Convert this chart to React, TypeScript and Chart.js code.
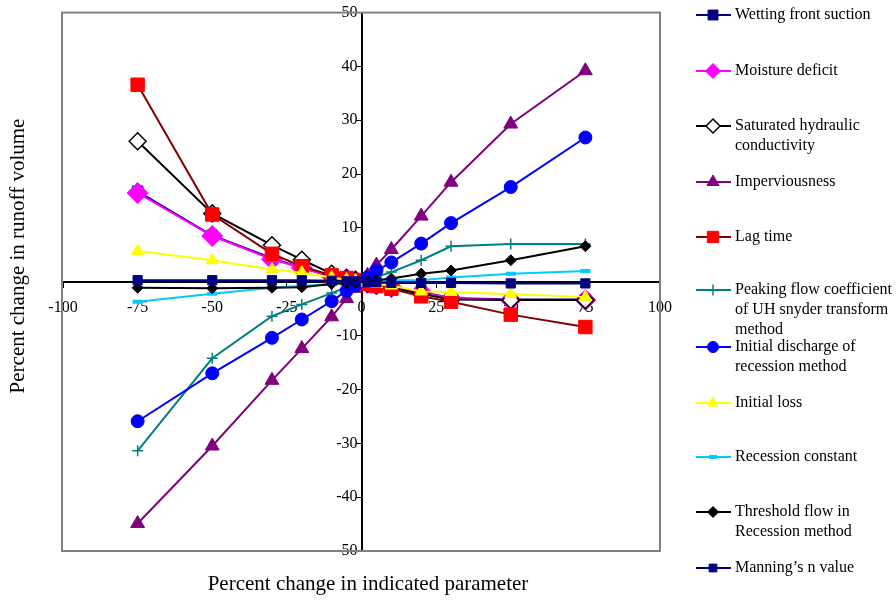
import React, { useEffect, useRef } from 'react';
import { Chart, registerables } from 'chart.js';
import { drawPoint } from 'chart.js/helpers';

Chart.register(...registerables);

// Percent change in indicated parameter
const xValues = [-75, -50, -30, -20, -10, -5, -2, 2, 5, 10, 20, 30, 50, 75];

// Percent change in runoff volume, per parameter
const wettingFrontSuction = [16.8, 8.6, 4.4, 2.6, 1.0, 0.5, 0.2, -0.2, -0.5, -1.0, -1.9, -3.0, -3.3, -3.3];
const moistureDeficit = [16.5, 8.5, 4.2, 2.6, 1.0, 0.5, 0.2, -0.2, -0.5, -1.0, -1.9, -3.1, -3.4, -3.4];
const saturatedHydraulic = [26.1, 12.7, 6.8, 4.1, 1.5, 0.7, 0.3, -0.3, -0.6, -1.1, -2.2, -3.3, -3.4, -3.4];
const imperviousness = [-44.9, -30.5, -18.3, -12.4, -6.5, -3.1, -1.2, 1.2, 3.1, 6.0, 12.2, 18.5, 29.3, 39.2];
const lagTime = [36.6, 12.5, 5.2, 2.9, 1.2, 0.7, 0.3, -0.4, -0.8, -1.3, -2.7, -3.7, -6.1, -8.4];
const peakingFlow = [-31.4, -14.2, -6.4, -4.2, -2.1, -1.0, -0.4, 0.4, 0.9, 1.8, 4.0, 6.6, 7.0, 7.0];
const initialDischarge = [-25.9, -17.0, -10.4, -7.0, -3.6, -1.7, -0.7, 0.8, 2.1, 3.6, 7.1, 10.9, 17.6, 26.8];
const initialLoss = [5.7, 4.0, 2.3, 1.7, 0.8, 0.4, 0.2, -0.2, -0.4, -0.7, -1.8, -1.9, -2.3, -2.8];
const recessionConstant = [-3.7, -2.2, -1.1, -0.8, -0.4, -0.2, -0.1, 0.1, 0.2, 0.3, 0.3, 0.8, 1.5, 2.0];
const thresholdFlow = [-1.1, -1.2, -1.1, -1.0, -0.4, -0.2, -0.1, 0.1, 0.3, 0.6, 1.5, 2.1, 4.0, 6.6];
const manningsN = [0.3, 0.3, 0.3, 0.3, 0.2, 0.1, 0.1, -0.1, -0.1, -0.2, -0.2, -0.2, -0.3, -0.3];

const legendLabels: string[][] = [
  ['Wetting front suction'],
  ['Moisture deficit'],
  ['Saturated hydraulic', 'conductivity'],
  ['Imperviousness'],
  ['Lag time'],
  ['Peaking flow coefficient', 'of UH snyder transform', 'method'],
  ['Initial discharge of', 'recession method'],
  ['Initial loss'],
  ['Recession constant'],
  ['Threshold flow in', 'Recession method'],
  ['Manning\u2019s n value'],
];

const xTitle = 'Percent change in indicated parameter';
const yTitle = 'Percent change in runoff volume';

const FONT = "'Liberation Serif', 'Times New Roman', serif";

type Style = {
  line: string;
  fill: string;
  border: string;
  pointStyle: any;
  radius: number;
  pbw: number;
  legendRadius: number;
};

const seriesValues = [
  wettingFrontSuction, moistureDeficit, saturatedHydraulic, imperviousness, lagTime,
  peakingFlow, initialDischarge, initialLoss, recessionConstant, thresholdFlow, manningsN,
];

const styles: Style[] = [
  { line: '#000080', fill: '#000080', border: '#000080', pointStyle: 'rect', radius: 7.5, pbw: 1, legendRadius: 7 },
  { line: '#FF00FF', fill: '#FF00FF', border: '#FF00FF', pointStyle: 'rectRot', radius: 10.5, pbw: 1, legendRadius: 7.5 },
  { line: '#000000', fill: '#FFFFFF', border: '#000000', pointStyle: 'rectRot', radius: 8.5, pbw: 1.5, legendRadius: 7 },
  { line: '#800080', fill: '#800080', border: '#800080', pointStyle: 'triangle', radius: 8, pbw: 1, legendRadius: 7 },
  { line: '#800000', fill: '#FF0000', border: '#FF0000', pointStyle: 'rect', radius: 9.5, pbw: 1, legendRadius: 8 },
  { line: '#008080', fill: '#008080', border: '#008080', pointStyle: 'cross', radius: 5.5, pbw: 1.5, legendRadius: 5.5 },
  { line: '#0000FF', fill: '#0000FF', border: '#0000FF', pointStyle: 'circle', radius: 6.5, pbw: 1, legendRadius: 5.5 },
  { line: '#FFFF00', fill: '#FFFF00', border: '#FFFF00', pointStyle: 'triangle', radius: 7, pbw: 1, legendRadius: 6 },
  { line: '#00CCFF', fill: '#00CCFF', border: '#00CCFF', pointStyle: 'line', radius: 5, pbw: 4, legendRadius: 4 },
  { line: '#000000', fill: '#000000', border: '#000000', pointStyle: 'rectRot', radius: 5.5, pbw: 1, legendRadius: 5.5 },
  { line: '#000080', fill: '#000080', border: '#000080', pointStyle: 'rect', radius: 6.5, pbw: 1, legendRadius: 5.5 },
];

const legendRowY = [15, 71, 126, 182, 237, 290, 347, 403, 457, 512, 568];

const framePlugin = {
  id: 'frame',
  beforeDatasetsDraw(chart: any) {
    const { ctx, chartArea: a } = chart;
    ctx.save();
    ctx.strokeStyle = '#808080';
    ctx.lineWidth = 2;
    ctx.strokeRect(a.left - 1, a.top, a.right - a.left + 1, a.bottom - a.top);
    ctx.restore();
  },
  afterDraw(chart: any) {
    const { ctx } = chart;
    ctx.save();
    // axis titles
    ctx.fillStyle = '#000';
    ctx.font = `21px ${FONT}`;
    ctx.textAlign = 'center';
    ctx.textBaseline = 'middle';
    ctx.fillText(xTitle, 368, 584);
    ctx.translate(18, 256);
    ctx.rotate(-Math.PI / 2);
    ctx.fillText(yTitle, 0, 0);
    ctx.restore();

    // legend
    ctx.save();
    ctx.font = `16px ${FONT}`;
    ctx.textAlign = 'left';
    ctx.textBaseline = 'middle';
    styles.forEach((s, i) => {
      const y = legendRowY[i];
      ctx.strokeStyle = s.line;
      ctx.lineWidth = 2;
      ctx.beginPath();
      ctx.moveTo(696, y);
      ctx.lineTo(731, y);
      ctx.stroke();
      ctx.fillStyle = s.fill;
      ctx.strokeStyle = s.border;
      ctx.lineWidth = s.pbw;
      drawPoint(ctx, { pointStyle: s.pointStyle, radius: s.legendRadius, borderWidth: s.pbw, rotation: 0 } as any, 713, y);
      ctx.fillStyle = '#000';
      legendLabels[i].forEach((t, k) => {
        ctx.fillText(t, 735, y + k * 20);
      });
    });
    ctx.restore();
  },
};

export default function App() {
  const ref = useRef<HTMLCanvasElement | null>(null);
  useEffect(() => {
    document.body.style.margin = '0';
    const canvas = ref.current;
    if (!canvas) return;
    const n = seriesValues.length;
    const datasets = seriesValues.map((vals, i) => {
      const s = styles[i];
      return {
        label: legendLabels[i].join(' '),
        data: xValues.map((x, k) => ({ x, y: vals[k] })),
        borderColor: s.line,
        backgroundColor: s.fill,
        borderWidth: 2,
        pointStyle: s.pointStyle,
        pointRadius: s.radius,
        pointBackgroundColor: s.fill,
        pointBorderColor: s.border,
        pointBorderWidth: s.pbw,
        showLine: true,
        fill: false,
        tension: 0,
        order: n - i,
      };
    });
    const tickFont = { family: FONT, size: 16 };
    const chart = new Chart(canvas, {
      type: 'scatter',
      data: { datasets: datasets as any },
      options: {
        animation: false,
        responsive: false,
        maintainAspectRatio: false,
        layout: { padding: { left: 63, right: 236, top: 12, bottom: 49 } },
        plugins: { legend: { display: false }, tooltip: { enabled: false } },
        scales: {
          x: {
            type: 'linear',
            min: -100,
            max: 100,
            position: { y: 0 } as any,
            ticks: { stepSize: 25, font: tickFont, color: '#000', padding: 11, maxRotation: 0, autoSkip: false },
            grid: { display: true, drawOnChartArea: false, drawTicks: true, tickLength: 5, color: '#000', lineWidth: 1 },
            border: { display: true, color: '#000', width: 2 },
          },
          y: {
            type: 'linear',
            min: -50,
            max: 50,
            position: { x: 0 } as any,
            ticks: { stepSize: 10, font: tickFont, color: '#000', callback: (v: any) => `${v} ` },
            grid: { display: true, drawOnChartArea: false, drawTicks: true, tickLength: 5, color: '#000', lineWidth: 1 },
            border: { display: true, color: '#000', width: 2 },
          },
        },
      },
      plugins: [framePlugin],
    });
    return () => chart.destroy();
  }, []);
  return (
    <div style={{ width: 896, height: 600 }}>
      <canvas ref={ref} width={896} height={600} style={{ display: 'block' }} />
    </div>
  );
}
